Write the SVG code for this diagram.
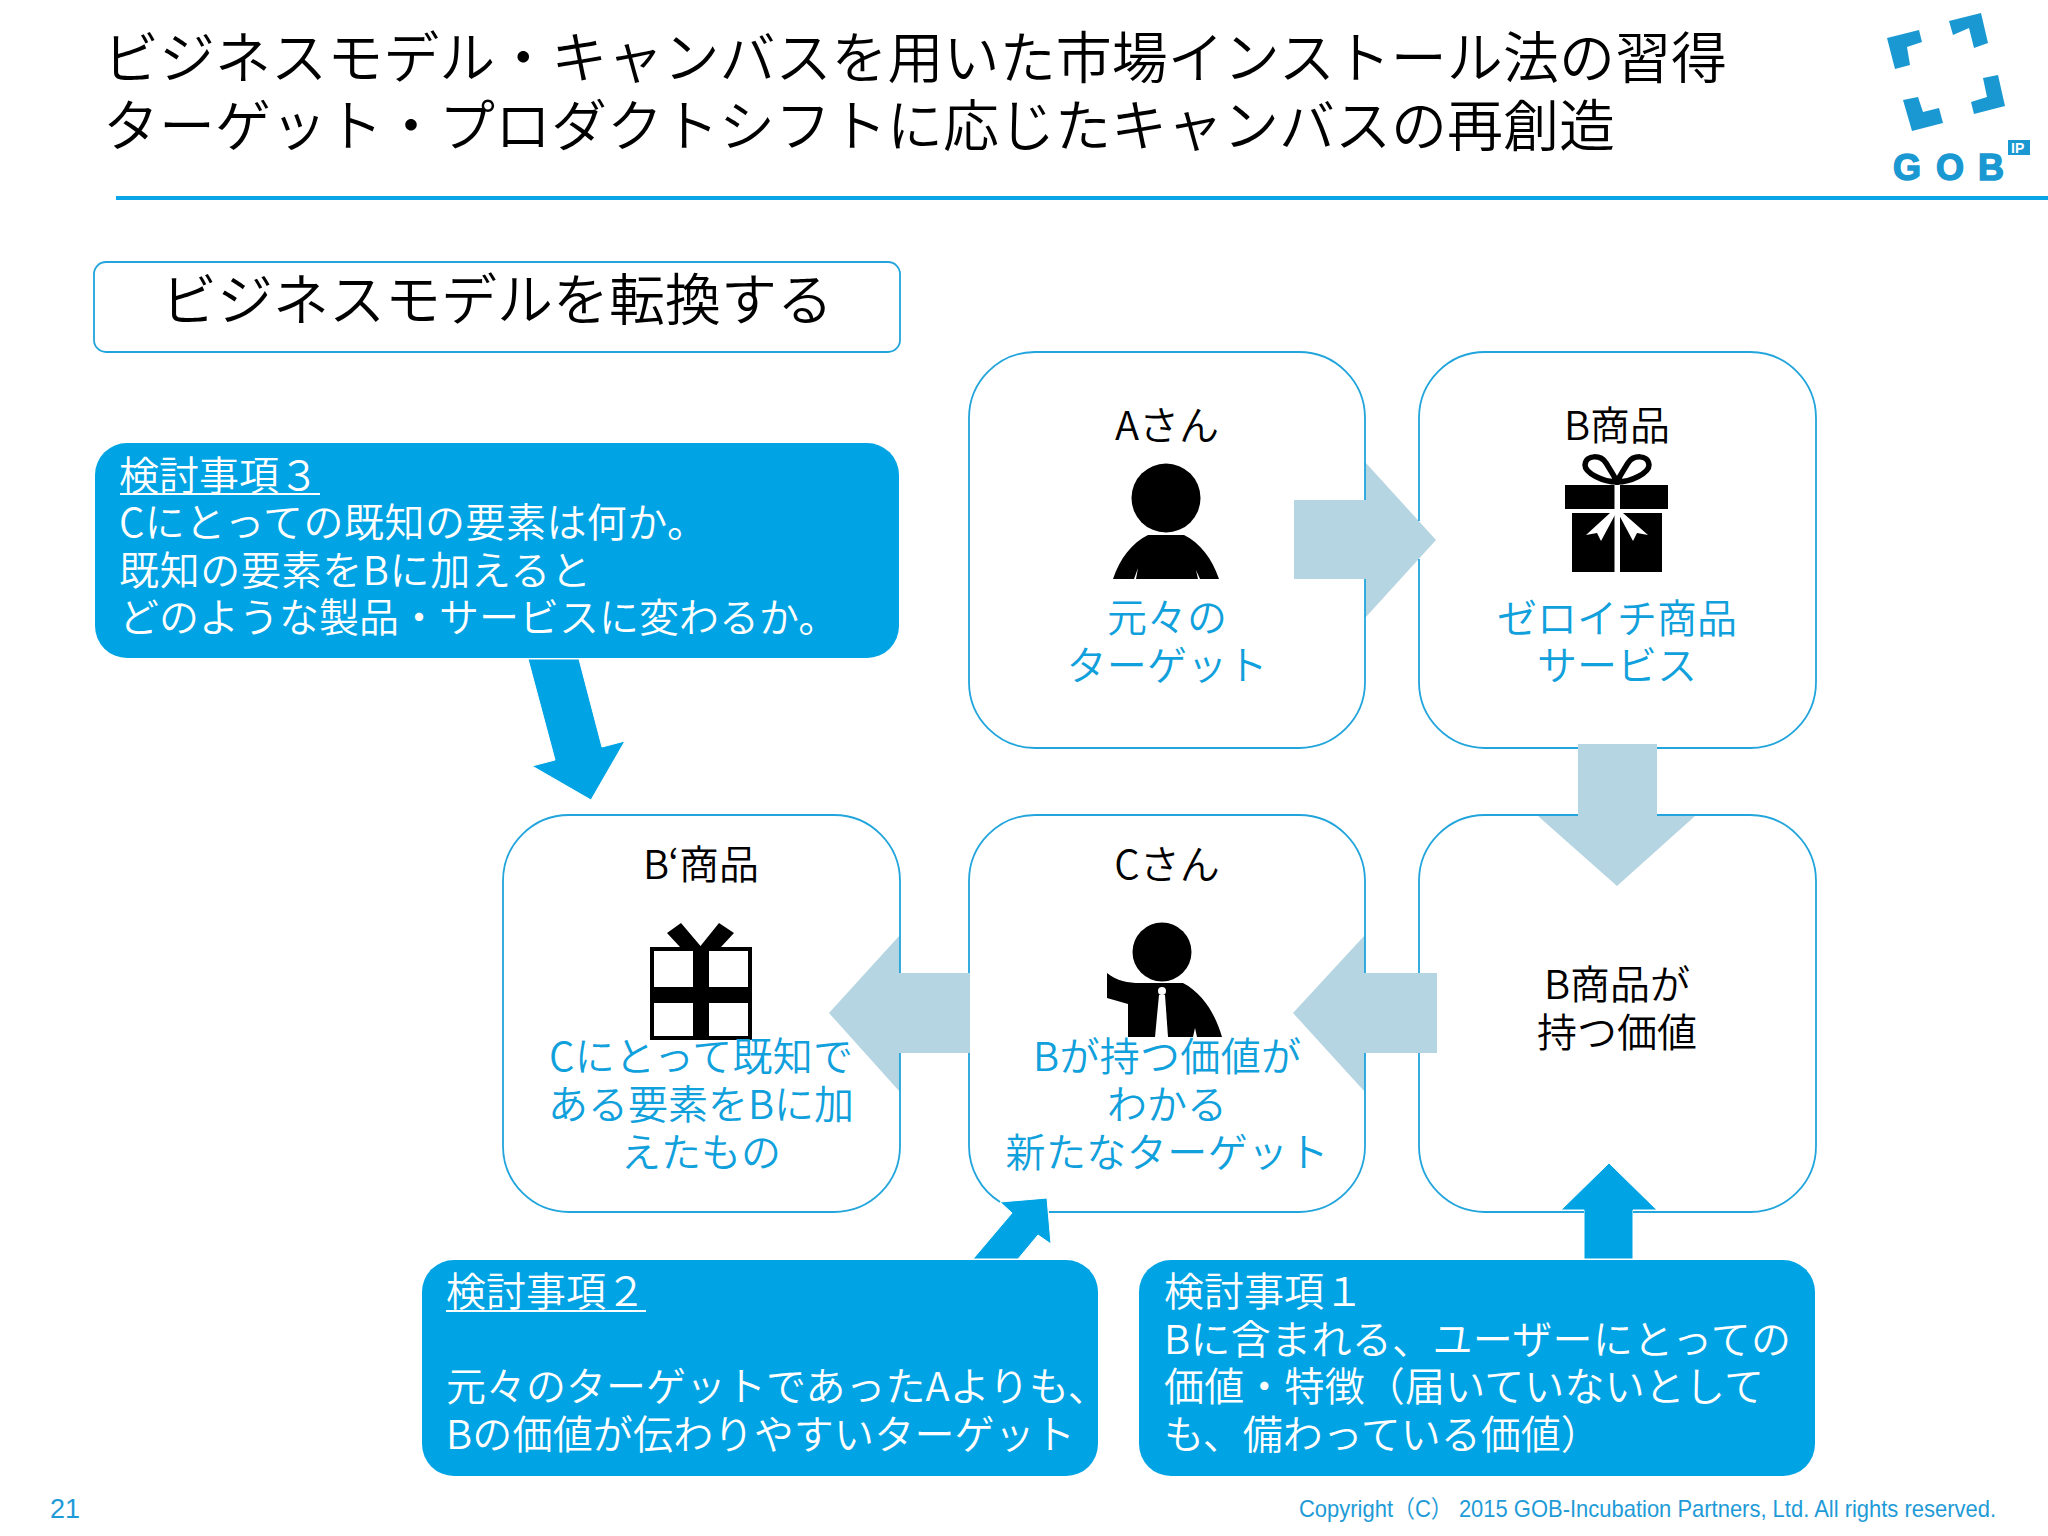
<svg xmlns="http://www.w3.org/2000/svg" width="2048" height="1536" viewBox="0 0 2048 1536">
<style>
text{font-family:"Noto Sans CJK JP","Liberation Sans",sans-serif;font-weight:350}
.title{font-size:56px;fill:#000}
.m{font-size:40px;text-anchor:middle}
.k{fill:#000}
.b{fill:#10a0dc}
.w{font-size:40px;fill:#fff}
.frame{fill:none;stroke:#22a5dc;stroke-width:1.8}
.light{fill:#b4d5e1}
.blue{fill:#00a4e4;stroke:#fff;stroke-width:1}
.box{fill:#00a4e4}
.ic{fill:#000}
.wi{fill:#fff}
</style>
<rect width="2048" height="1536" fill="#fff"/>

<g id="header">
<text class="title" x="103" y="78" textLength="1624">ビジネスモデル・キャンバスを用いた市場インストール法の習得</text>
<text class="title" x="103" y="146" textLength="1512">ターゲット・プロダクトシフトに応じたキャンバスの再創造</text>
<line x1="116" y1="198" x2="2048" y2="198" stroke="#0aa5e6" stroke-width="4"/>
</g>

<g id="logo" fill="#1a98d2">
<polygon points="1887,38 1919,30 1922,42 1907,47 1910,65 1895,69"/>
<polygon points="1949,21 1981,13 1988,43 1974,48 1969,28 1953,35"/>
<polygon points="1903,100 1918,97 1923,112 1939,108 1943,123 1912,131"/>
<polygon points="1983,78 1998,75 2005,106 1974,114 1971,102 1987,97"/>
<text x="1893 1936 1978" y="180" stroke="#1a98d2" stroke-width="1.5" style="font-family:'Liberation Sans',sans-serif;font-weight:700;font-size:36px">GOB</text>
<rect x="2008" y="140" width="22" height="15"/>
<text x="2011" y="153" style="font-family:'Liberation Sans',sans-serif;font-weight:700;font-size:14px" fill="#fff">IP</text>
</g>

<g id="connectors">
<polygon class="light" points="1294,500 1365,500 1365,462 1436,540 1365,618 1365,579 1294,579"/>
<polygon class="light" points="1578,744 1657,744 1657,816 1695,816 1617,886 1538,816 1578,816"/>
<polygon class="light" points="1437,973 1365,973 1365,935 1293,1013 1365,1092 1365,1053 1437,1053"/>
<polygon class="light" points="970,973 900,973 900,935 829,1013 900,1092 900,1053 970,1053"/>
<polygon class="blue" points="528,659 579,659 602,747 625,741 591,800 532,766 555,760"/>
<polygon class="blue" points="973,1259 1012,1213 1000,1202 1047,1198 1051,1244 1038,1235 1018,1259"/>
<polygon class="blue" points="1609,1163 1561,1210 1584,1210 1584,1259 1633,1259 1633,1210 1657,1210"/>
</g>

<g id="heading-box">
<rect x="94" y="262" width="806" height="90" rx="12" class="frame"/>
<text class="title" x="497" y="320" text-anchor="middle">ビジネスモデルを転換する</text>
</g>

<g id="node-a">
<path class="frame" d="M1365 579V682A66 66 0 0 1 1299 748H1035A66 66 0 0 1 969 682V418A66 66 0 0 1 1035 352H1299A66 66 0 0 1 1365 418V500"/>
<text class="m k" x="1167" y="440">Aさん</text>
<circle class="ic" cx="1166" cy="498" r="34.5"/>
<path class="ic" d="M1113 579C1120 558 1132 543 1148 535H1184C1200 543 1212 558 1219 579H1200L1196 570L1198 579H1136L1138 568L1134 579Z"/>
<text class="m b" x="1167" y="632">元々の</text>
<text class="m b" x="1167" y="680" textLength="201">ターゲット</text>
</g>

<g id="node-b">
<path class="frame" d="M1419 559V682A66 66 0 0 0 1485 748H1578M1657 748H1750A66 66 0 0 0 1816 682V418A66 66 0 0 0 1750 352H1485A66 66 0 0 0 1419 418V521"/>
<text class="m k" x="1617" y="440">B商品</text>
<path d="M1617 482C1603 482 1585 473 1585 465C1586 454 1601 455 1606 463C1611 471 1615 477 1617 482C1619 477 1623 471 1628 463C1633 455 1648 454 1649 465C1649 473 1631 482 1617 482Z" fill="none" stroke="#000" stroke-width="5.5"/>
<rect class="ic" x="1565" y="485" width="103" height="24"/>
<rect class="ic" x="1572" y="513" width="90" height="59"/>
<rect class="wi" x="1614.5" y="485" width="5.5" height="87"/>
<polygon class="wi" points="1610,513 1586,535 1597,533 1601,541 1616,513"/>
<polygon class="wi" points="1623,513 1648,535 1637,533 1633,541 1618,513"/>
<text class="m b" x="1617" y="633">ゼロイチ商品</text>
<text class="m b" x="1617" y="680">サービス</text>
</g>

<g id="node-value">
<path class="frame" d="M1657 815H1750A66 66 0 0 1 1816 881V1146A66 66 0 0 1 1750 1212H1633M1584 1212H1485A66 66 0 0 1 1419 1146V1053M1419 973V881A66 66 0 0 1 1485 815H1578"/>
<text class="m k" x="1617" y="999">B商品が</text>
<text class="m k" x="1617" y="1047">持つ価値</text>
</g>

<g id="node-c">
<path class="frame" d="M1365 1053V1146A66 66 0 0 1 1299 1212H1049M1000 1202A66 66 0 0 1 969 1146V1053M969 973V881A66 66 0 0 1 1035 815H1299A66 66 0 0 1 1365 881V973"/>
<text class="m k" x="1167" y="879">Cさん</text>
<circle class="ic" cx="1162" cy="952" r="29.5"/>
<path class="ic" d="M1107 973C1117 981 1128 983 1140 983H1183C1204 994 1216 1016 1222 1037H1197L1195 1028L1193 1037H1128V1004L1107 998Z"/>
<polygon class="wi" points="1159,995 1165,995 1168,1037 1155,1037"/>
<circle class="wi" cx="1162" cy="991" r="4"/>
<text class="m b" x="1167" y="1071" textLength="268">Bが持つ価値が</text>
<text class="m b" x="1167" y="1119">わかる</text>
<text class="m b" x="1167" y="1167" textLength="323">新たなターゲット</text>
</g>

<g id="node-b-prime">
<path class="frame" d="M900 1053V1146A66 66 0 0 1 834 1212H569A66 66 0 0 1 503 1146V881A66 66 0 0 1 569 815H834A66 66 0 0 1 900 881V973"/>
<text class="m k" x="701" y="879">B‘商品</text>
<polygon class="ic" points="667,933 681,923 700.5,946 719,923 734,933 721,947 680,947"/>
<rect class="ic" x="650" y="947" width="102" height="93"/>
<rect class="wi" x="654" y="951" width="39" height="36"/>
<rect class="wi" x="709" y="951" width="39" height="36"/>
<rect class="wi" x="654" y="1003" width="39" height="33"/>
<rect class="wi" x="709" y="1003" width="39" height="33"/>
<text class="m b" x="701" y="1071" textLength="304">Cにとって既知で</text>
<text class="m b" x="701" y="1119" textLength="306">ある要素をBに加</text>
<text class="m b" x="701" y="1167">えたもの</text>
</g>

<g id="note-3">
<rect class="box" x="95" y="443" width="804" height="215" rx="32"/>
<text class="w" x="119" y="490">検討事項３</text>
<line x1="120" y1="494" x2="320" y2="494" stroke="#fff" stroke-width="2"/>
<text class="w" x="119" y="537" textLength="588">Cにとっての既知の要素は何か。</text>
<text class="w" x="119" y="585" textLength="472">既知の要素をBに加えると</text>
<text class="w" x="119" y="632">どのような製品・サービスに変わるか。</text>
</g>

<g id="note-2">
<rect class="box" x="422" y="1260" width="676" height="216" rx="32"/>
<text class="w" x="446" y="1306">検討事項２</text>
<line x1="446" y1="1311" x2="646" y2="1311" stroke="#fff" stroke-width="2"/>
<text class="w" x="446" y="1401">元々のターゲットであったAよりも、</text>
<text class="w" x="446" y="1449" textLength="629">Bの価値が伝わりやすいターゲット</text>
</g>

<g id="note-1">
<rect class="box" x="1139" y="1260" width="676" height="216" rx="32"/>
<text class="w" x="1164" y="1306">検討事項１</text>
<text class="w" x="1164" y="1354" textLength="627">Bに含まれる、ユーザーにとっての</text>
<text class="w" x="1164" y="1401" textLength="600">価値・特徴（届いていないとして</text>
<text class="w" x="1164" y="1449">も、備わっている価値）</text>
</g>

<g id="footer">
<text x="50" y="1518" style="font-family:'Liberation Sans',sans-serif;font-size:27px;font-weight:400" fill="#1e9bd7">21</text>
<text x="1299" y="1517" textLength="697" lengthAdjust="spacingAndGlyphs" style="font-family:'Liberation Sans','Noto Sans CJK JP',sans-serif;font-size:24px;font-weight:400" fill="#1e9bd7">Copyright（C） 2015 GOB-Incubation Partners, Ltd. All rights reserved.</text>
</g>
</svg>
